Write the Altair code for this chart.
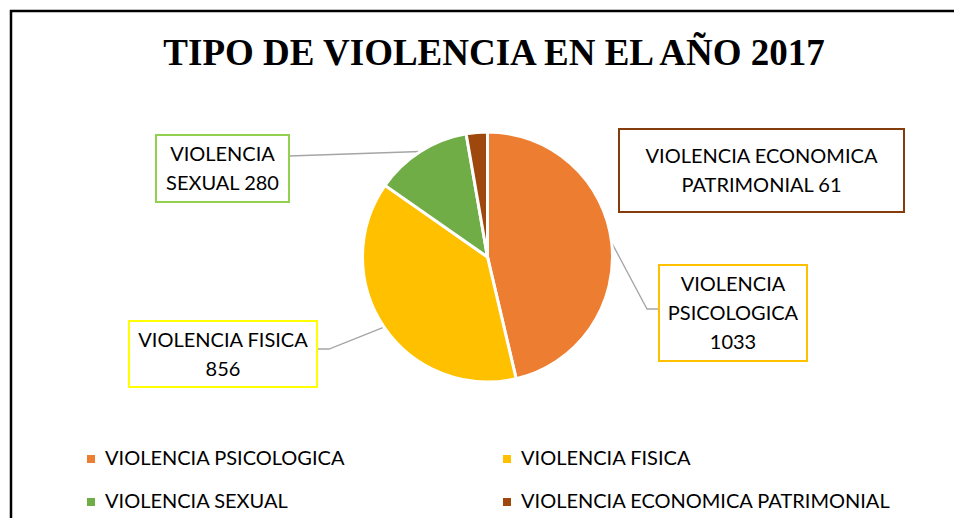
import altair as alt
import numpy as np
import pandas as pd

# ---- data ----
title_text = "TIPO DE VIOLENCIA EN EL AÑO 2017"
categories = ["VIOLENCIA PSICOLOGICA", "VIOLENCIA FISICA", "VIOLENCIA SEXUAL",
              "VIOLENCIA ECONOMICA PATRIMONIAL"]
values = [1033, 856, 280, 61]

# ---- styles / layout ----
slice_colors = ["#ED7D31", "#FFC000", "#70AD47", "#9E480E"]
box_colors = ["#FFC000", "#FFFF00", "#92D050", "#843C0C"]
label_templates = ["{0}\n{1}\n{v}", "{0} {1}\n{v}", "{0}\n{1} {v}", "{0} {1}\n{2} {v}"]
# label boxes: x0, x1, y0, y1 (pixels in chart space)
box_layout = [(651, 799, 257, 353), (121, 309, 313, 379), (148, 281, 127, 194), (611, 896, 121, 204)]
# leader-line anchor points on the box side (None = no leader)
leader_layout = [[(651, 301), (639, 301)], [(309, 341), (321, 341)], [(281, 148)], None]
CX, CY, R = 479.5, 249.0, 125.0
W, H = 946, 510
FONT = "Lato"
FS = 20
LH = 29

pie_df = pd.DataFrame({"cat": categories, "value": values, "idx": range(len(values))})

# labels
rows = []
for i, (c, v) in enumerate(zip(categories, values)):
    x0, x1, y0, y1 = box_layout[i]
    txt = label_templates[i].format(*c.split(" "), v=v)
    n = txt.count("\n") + 1
    rows.append({"cat": c, "text": txt,
                 "x0": x0, "x1": x1, "y0": y0, "y1": y1,
                 "tx": (x0 + x1) / 2, "ty": (y0 + y1) / 2 - (n - 1) * LH / 2 + 1,
                 "border": box_colors[i]})
lab_df = pd.DataFrame(rows)

# leader lines: box anchor -> middle of slice's outer edge
vals = np.array(values, dtype=float)
cum = np.cumsum(vals)
mid = (cum - vals / 2) / vals.sum() * 2 * np.pi
lrows = []
for i, pts in enumerate(leader_layout):
    if pts is None:
        continue
    allpts = list(pts) + [(CX + R * np.sin(mid[i]), CY - R * np.cos(mid[i]))]
    for s, (px, py) in enumerate(allpts):
        lrows.append({"lid": categories[i], "seq": s, "px": px, "py": py})
lead_df = pd.DataFrame(lrows)

one = pd.DataFrame({"t": [title_text]})

border = alt.Chart(one).mark_rect(filled=False, stroke="black", strokeWidth=2.5).encode(
    x=alt.value(3), y=alt.value(3), x2=alt.value(2000), y2=alt.value(2000))

leaders = alt.Chart(lead_df).mark_line(color="#A5A5A5", strokeWidth=1.3).encode(
    x=alt.X("px:Q", scale=None, axis=None),
    y=alt.Y("py:Q", scale=None, axis=None),
    detail="lid:N", order="seq:Q")

pie = alt.Chart(pie_df).mark_arc(radius=R, stroke="white", strokeWidth=3).encode(
    theta=alt.Theta("value:Q", stack=True),
    order=alt.Order("idx:Q"),
    color=alt.Color("cat:N", sort=categories,
                    scale=alt.Scale(domain=categories, range=slice_colors),
                    legend=alt.Legend(title=None, orient="none", legendX=73, legendY=441,
                                      direction="horizontal", columns=2,
                                      symbolType="square", symbolSize=64,
                                      symbolStrokeWidth=0, labelFont=FONT, labelFontSize=FS,
                                      labelColor="black", labelOffset=4, labelLimit=600,
                                      columnPadding=151, rowPadding=23, padding=0)),
    x=alt.value(CX), y=alt.value(CY))

boxes = alt.Chart(lab_df).mark_rect(fill="white", strokeWidth=2).encode(
    x=alt.X("x0:Q", scale=None, axis=None), x2="x1:Q",
    y=alt.Y("y0:Q", scale=None, axis=None), y2="y1:Q",
    stroke=alt.Stroke("border:N", scale=None))

texts = alt.Chart(lab_df).mark_text(font=FONT, fontSize=FS, lineBreak="\n", lineHeight=LH,
                                    align="center", baseline="middle", color="black").encode(
    x=alt.X("tx:Q", scale=None, axis=None),
    y=alt.Y("ty:Q", scale=None, axis=None),
    text="text:N")

title = alt.Chart(one).mark_text(font="Liberation Serif", fontWeight="bold", fontSize=37,
                                 align="center", baseline="alphabetic", color="black").encode(
    x=alt.value(486), y=alt.value(57), text="t:N")

chart = alt.layer(border, leaders, pie, boxes, texts, title).properties(
    width=W, height=H, autosize=alt.AutoSizeParams(type="none"), padding=0
).configure_view(stroke=None)

chart.save("out.html", embed_options={"renderer": "svg", "actions": False})
